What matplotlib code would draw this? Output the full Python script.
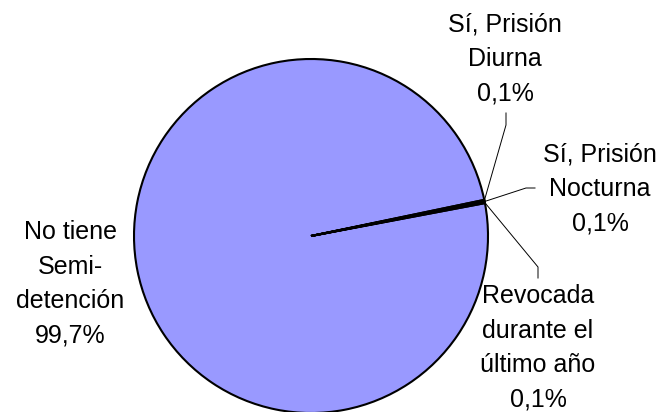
import numpy as np
import matplotlib.pyplot as plt

labels = ["No tiene\nSemi-\ndetención", "Sí, Prisión\nDiurna", "Sí, Prisión\nNocturna",
          "Revocada\ndurante el\núltimo año"]
values = [99.7, 0.1, 0.1, 0.1]
pct_text = ["99,7%", "0,1%", "0,1%", "0,1%"]
colors = ["#9999FF", "#993366", "#FFFFCC", "#CCFFFF"]

W, H = 665, 412
fig = plt.figure(figsize=(W / 100, H / 100), dpi=100)
ax = fig.add_axes([0, 0, 1, 1])

cx, cy, R = 311, H - 236, 177
wedges, _ = ax.pie(values, colors=colors, startangle=10.7, counterclock=False,
                   center=(cx, cy), radius=R, frame=True,
                   wedgeprops=dict(edgecolor="black", linewidth=1.5))
ax.set_xlim(0, W)
ax.set_ylim(0, H)
ax.axis("off")

font = dict(family="Liberation Sans", fontsize=18, ha="center", va="center",
            linespacing=1.56)

# big slice label sits left of the pie, no leader
ax.text(70, H - 284, labels[0] + "\n" + pct_text[0], **font)

# small slices: text position and leader path (elbow points)
text_pos = [(505, H - 59), (600, H - 189), (538, H - 348)]
elbows = [[(506, H - 125), (506, H - 113)],
          [(526, H - 188), (535, H - 188)],
          [(538, H - 267), (538, H - 278)]]
for i, w in enumerate(wedges[1:]):
    ang = np.deg2rad((w.theta1 + w.theta2) / 2)
    ax0 = cx + R * np.cos(ang)
    ay0 = cy + R * np.sin(ang)
    pts = [(ax0, ay0)] + elbows[i]
    xs, ys = zip(*pts)
    ax.plot(xs, ys, color="black", lw=0.7)
    ax.text(text_pos[i][0], text_pos[i][1],
            labels[i + 1] + "\n" + pct_text[i + 1], **font)

fig.savefig("out.png", dpi=100)
